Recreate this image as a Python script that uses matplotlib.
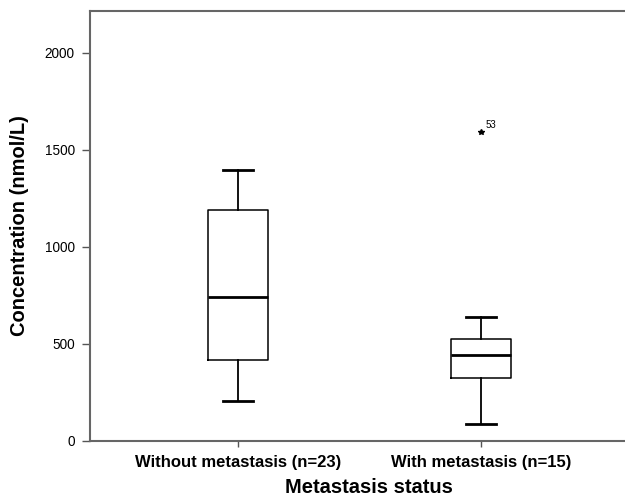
import matplotlib.pyplot as plt
import numpy as np

# Data: whisker low, Q1, median, Q3, whisker high
groups = ['Without metastasis (n=23)', 'With metastasis (n=15)']
whislo = [206, 86]
q1 = [416, 325]
med = [742, 443]
q3 = [1191, 523]
whishi = [1395, 638]
outliers = [[], [1590]]
outlier_ids = [[], ['53']]

plt.rcParams['font.family'] = ['Liberation Sans', 'DejaVu Sans']

fig = plt.figure(figsize=(6.25, 4.99), dpi=100)
ax = fig.add_axes([90/625, 58/499, 535/625, 430/499])

stats = []
for i in range(len(groups)):
    stats.append(dict(label=groups[i], whislo=whislo[i], q1=q1[i], med=med[i],
                      q3=q3[i], whishi=whishi[i], fliers=[]))

ax.bxp(stats, positions=[1, 2], widths=0.25, showfliers=False,
       boxprops=dict(color='black', linewidth=1.1),
       medianprops=dict(color='black', linewidth=2),
       whiskerprops=dict(color='black', linewidth=1.3),
       capprops=dict(color='black', linewidth=2),
       capwidths=0.125)

# extreme values shown as stars with case number
for i, (vals, ids) in enumerate(zip(outliers, outlier_ids)):
    for v, lab in zip(vals, ids):
        ax.plot(i + 1, v, marker='*', color='black', markersize=4, linestyle='none')
        ax.annotate(lab, (i + 1, v), xytext=(3, 3), textcoords='offset points',
                    fontsize=7)

ax.set_xlim(0.391, 2.593)
ax.set_ylim(0, 2215)
ax.set_yticks([0, 500, 1000, 1500, 2000])
ax.set_xticks([1, 2])
ax.set_xticklabels(groups, fontsize=12, fontweight='bold')
ax.tick_params(axis='y', labelsize=9.8, length=6, width=1, color='#555555', pad=5)
ax.tick_params(axis='x', length=4, width=1, color='#555555', pad=6)

for s in ['left', 'top', 'bottom']:
    ax.spines[s].set_color('#666666')
    ax.spines[s].set_linewidth(1.5)
ax.spines['right'].set_visible(False)

ax.set_ylabel('Concentration (nmol/L)', fontsize=14.5, fontweight='bold', labelpad=11)
ax.set_xlabel('Metastasis status', fontsize=14.5, fontweight='bold')
ax.xaxis.set_label_coords(0.521, -0.085)

fig.savefig('out.png', dpi=100)
